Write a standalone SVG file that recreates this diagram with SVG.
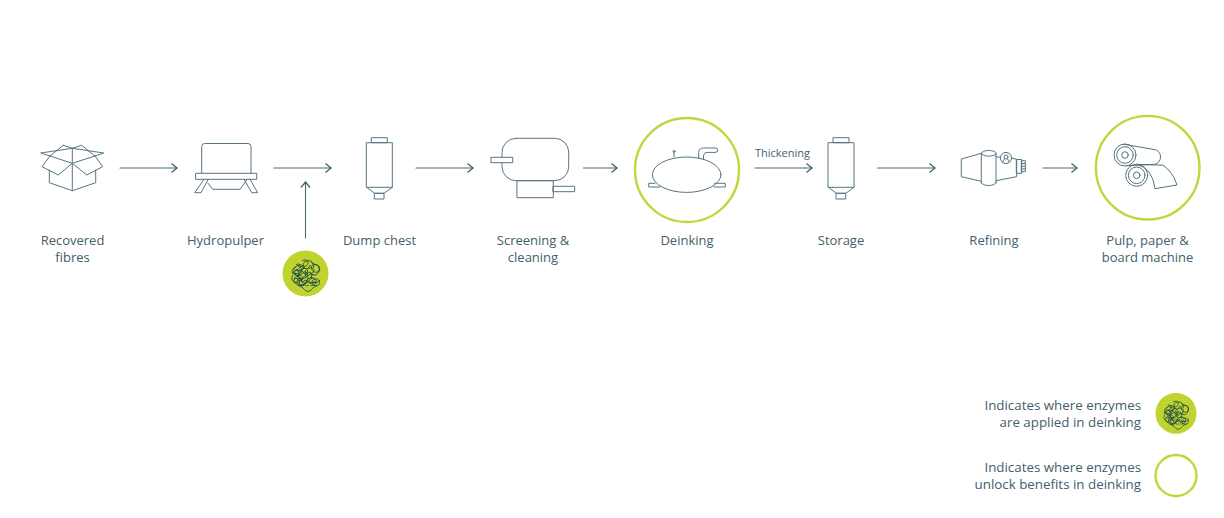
<svg xmlns="http://www.w3.org/2000/svg" xmlns:xlink="http://www.w3.org/1999/xlink" width="1224" height="518" viewBox="0 0 1224 518">
<style>
text{font-family:"Open Sans","Noto Sans","Liberation Sans",sans-serif;font-size:13px;fill:#3f606c;text-anchor:middle}
text.r{text-anchor:end;font-size:13.35px}
text.s{font-size:11px}
.i,.c{fill:none;stroke:#557580;stroke-width:1;stroke-linejoin:round;stroke-linecap:round}
.w{fill:#fff}
.c{stroke:#4a6a74;stroke-width:1.1}
.ring{fill:none;stroke:#c3d53a;stroke-width:2.4}
.dot{fill:#c0d32f}
.enz{fill:none;stroke:#17454a;stroke-width:.85;stroke-linecap:round;stroke-linejoin:round}
</style>
<defs>
<marker id="a" markerWidth="9" markerHeight="12" refX="7" refY="6" orient="auto" markerUnits="userSpaceOnUse"><path d="M1.5 1.5L7 6L1.5 10.5" fill="none" stroke="#3c5c66" stroke-width="1.2"/></marker>
<g id="enzyme">
<circle class="dot" r="23"/>
<g class="enz">
<path d="M-12-4c3-5 8-6 10-3s-4 5-7 4-2 6 2 5 5-5 8-3-1 7-5 6-6 3-3 6 7 1 8-3 6-5 9-2-2 7-5 6"/>
<path d="M-3-13c4-2 7 1 5 4s-5 2-4-1 7-4 9-1 6 1 7 5-3 6-6 4-3-7 1-7 6 4 4 8-7 3-8 0"/>
<path d="M-13 2c-2 4 1 8 5 7s3-6 0-6-5 4-2 7 7 3 9 6 6 2 8-1 7-2 7-6-5-5-7-2 1 6 4 5"/>
<path d="M-9-9c3-2 5 2 3 4s-6 1-6 4 4 4 6 2 1-5 4-6 5 2 4 5-5 3-6 6 3 5 6 3 2-5 5-5"/>
<path d="M-5 7c-3 2-1 6 2 5s2-4 5-4 4 3 7 1M3-5c3-2 6 0 5 3s-5 2-6 5M-10-7c-2 2-4 4-3 7M8 8c2 2 5 1 6-1"/>
<path d="M-8 3c2-2 5-1 5 2s-4 3-5 1M-2-8c-2 2-5 2-6 0M6-11c2 1 3 3 2 5"/>
<path d="M-12 0c2-1 3 1 5 0s2-3 4-2 1 3 3 3 2-3 4-2 2 3 4 2M-11 5c2 1 3-1 5 0s1 3 3 3 3-2 5-1 1 3 3 3 3-2 5-1"/>
<path d="M-9-4c1 2 3 2 4 1s1-3 3-3 2 2 4 1 1-3 3-3M-6 11c2 1 3-1 5 0s2 2 4 1M-7-2c1 2-1 3 0 5s3 1 3 3M0-3c1 2-1 3 0 5s2 1 2 3M6 0c1 2-1 3 0 5"/>
</g>
</g>
<g id="silo" class="i">
<rect x="366.7" y="142.7" width="25.6" height="44.6"/>
<rect x="371.7" y="137.7" width="15.6" height="5"/>
<path d="M366.7 187.3l8 6h9.4l8.2-6"/>
<rect x="374.7" y="193.3" width="9.3" height="5.7"/>
</g>
</defs>

<g id="connectors">
<path class="c" marker-end="url(#a)" d="M120 168H177"/>
<path class="c" marker-end="url(#a)" d="M274 168H331"/>
<path class="c" marker-end="url(#a)" d="M305.5 238V182"/>
<path class="c" marker-end="url(#a)" d="M416 168H473"/>
<path class="c" marker-end="url(#a)" d="M583.5 168H617"/>
<path class="c" marker-end="url(#a)" d="M755 168H812"/>
<path class="c" marker-end="url(#a)" d="M877.5 168H935"/>
<path class="c" marker-end="url(#a)" d="M1043 168H1077"/>
<text class="s" x="782.5" y="157">Thickening</text>
</g>

<g id="node-recovered-fibres">
<path class="i" d="M72.3 148.3L40.7 153L50 156L63.3 145.3M72.3 148.3L103.7 153L95 156L81.7 145.3L72.3 148.3L63.3 145.3M50 156L72.3 163.3L95 156M72.3 148.3V190.7M50 156L42 166.7L58.3 175L72.3 163.3L86.7 175L102.7 166.7L95 156M49.3 170V182.7L72.3 190.7L95.7 182.7V170"/>
<text x="72.5" y="245">Recovered</text><text x="72.5" y="262">fibres</text>
</g>

<g id="node-hydropulper">
<g class="i">
<path d="M201.7 173V146.5a3 3 0 0 1 3-3H248a3 3 0 0 1 3 3V173"/>
<rect x="196" y="173.3" width="60.7" height="6"/>
<path d="M204 179.3L194.7 192.7H201L208.3 179.3M244 179.3L251.7 192.7H257.7L250 179.3M208 183.3L212.7 189.3H240L246.7 180"/>
</g>
<text x="225.5" y="245">Hydropulper</text>
</g>

<g id="node-enzyme-input"><use href="#enzyme" x="305.5" y="273.5"/></g>

<g id="node-dump-chest">
<use href="#silo"/>
<text x="379.5" y="245">Dump chest</text>
</g>

<g id="node-screening">
<g class="i">
<rect x="502" y="138.3" width="66.7" height="42.4" rx="14"/>
<rect class="w" x="491.3" y="157.3" width="21.4" height="5.4"/>
<rect x="517.3" y="180.7" width="36" height="17"/>
<rect x="553.3" y="186.3" width="21.4" height="5.4"/>
</g>
<text x="533" y="245">Screening &amp;</text><text x="533" y="262">cleaning</text>
</g>

<g id="node-deinking">
<circle class="ring" cx="687" cy="170" r="52"/>
<g class="i">
<ellipse cx="686.7" cy="174.7" rx="34.3" ry="17.7"/>
<path d="M660 187H648.7V183.3H655M714.5 183.3H725.3V187H714"/>
<path d="M674 157V152.5"/><circle cx="674" cy="151.5" r="1"/>
<path d="M698.7 158.3V152.5Q698.7 148 703.5 148H715Q717.8 148 717.8 150.2T715 152.4H707Q703.5 152.4 703.5 156V159.5"/>
</g>
<text x="687" y="245">Deinking</text>
</g>

<g id="node-storage">
<use href="#silo" x="461.7"/>
<text x="841" y="245">Storage</text>
</g>

<g id="node-refining">
<g class="i">
<path d="M981.3 153.3L961.3 159V176.7L981.3 181.3"/>
<path d="M981.3 153.3V183M996 153.3V183M981.3 153.3a7.3 2.8 0 0 1 14.7 0a7.3 2.8 0 0 1-14.7 0M981.3 182.5a7.3 3 0 0 0 14.7 0"/>
<path d="M996 156.7L1001 157.5M1011.5 158L1016.7 159.3V176.7L996 180.7"/>
<rect x="1016.7" y="159.5" width="5" height="13.8"/>
<rect x="1021.7" y="160.7" width="3.6" height="11"/>
<path d="M1021.7 163.5h3.6M1021.7 166.2h3.6M1021.7 169h3.6"/>
<circle class="w" cx="1006" cy="158" r="5.6"/>
<circle cx="1006" cy="157" r="2"/>
<path d="M1002.8 162L1004.5 158.8M1009.2 162L1007.5 158.8"/>
</g>
<text x="994" y="245">Refining</text>
</g>

<g id="node-machine">
<circle class="ring" cx="1147.7" cy="167.7" r="51.8"/>
<g class="i">
<path d="M1124 144.3L1153 149.3A7.6 7.6 0 0 1 1153 164.5L1126 165.7"/>
<circle cx="1125" cy="155" r="11"/><circle cx="1125" cy="155" r="8.3"/><circle cx="1125" cy="155" r="3.3"/>
<path d="M1137 164.3L1163 165.2Q1173 172 1177 185L1155 188.7Q1152.5 168 1137 164.3"/>
<circle cx="1136.7" cy="175.3" r="11"/><circle cx="1136.7" cy="175.3" r="8.3"/><circle cx="1136.7" cy="175.3" r="3.3"/>
</g>
<text x="1147.5" y="245">Pulp, paper &amp;</text><text x="1147.5" y="262">board machine</text>
</g>

<g id="legend-enzymes">
<use href="#enzyme" transform="translate(1176 413.3) scale(.89)"/>
<text class="r" x="1141" y="410">Indicates where enzymes</text><text class="r" x="1141" y="427">are applied in deinking</text>
</g>
<g id="legend-benefits">
<circle class="ring" cx="1176" cy="475.5" r="20.5"/>
<text class="r" x="1141" y="472">Indicates where enzymes</text><text class="r" x="1141" y="489">unlock benefits in deinking</text>
</g>
</svg>
